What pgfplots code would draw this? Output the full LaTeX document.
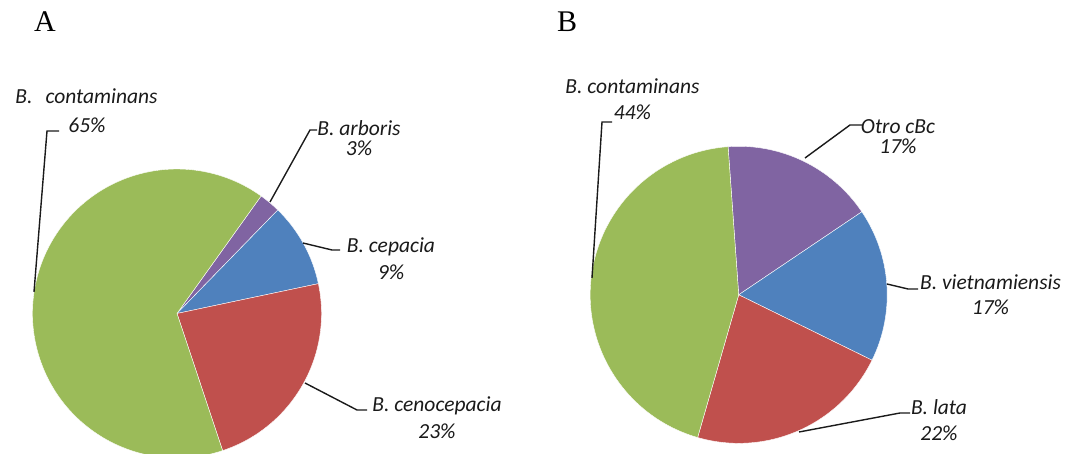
\documentclass[border=0pt]{standalone}
\usepackage{fontspec}
\setmainfont{Liberation Serif}
\newfontfamily\labfont{Carlito}
\usepackage{pgfplots}
\usepackage{pgfplotstable}
\pgfplotsset{compat=1.18}

\definecolor{cgreen}{HTML}{9BBB59}
\definecolor{cpurple}{HTML}{8064A2}
\definecolor{cblue}{HTML}{4F81BD}
\definecolor{cred}{HTML}{C0504D}
\definecolor{ctext}{HTML}{1A1A1A}

% Pie A: slices clockwise from start angle 54.4 deg
\pgfplotstableread{
name value color
arboris 2.4 cpurple
cepacia 9.4 cblue
cenocepacia 23.2 cred
contaminans 65.0 cgreen
}\pieA

% Pie B: slices clockwise from start angle 94.1 deg
\pgfplotstableread{
name value color
otro 16.7 cpurple
vietnamiensis 16.7 cblue
lata 22.2 cred
contaminans 44.4 cgreen
}\pieB

\newcommand\drawpie[5]{%
  \pgfplotstablegetrowsof{#1}%
  \pgfmathtruncatemacro\pieN{\pgfplotsretval-1}%
  \xdef\piecur{#5}%
  \foreach \i in {0,...,\pieN}{%
    \pgfplotstablegetelem{\i}{value}\of#1%
    \pgfmathsetmacro\pieval{\pgfplotsretval}%
    \pgfplotstablegetelem{\i}{color}\of#1%
    \edef\piecol{\pgfplotsretval}%
    \pgfmathsetmacro\pienext{\piecur-3.6*\pieval}%
    \path[fill=\piecol, draw=white, line width=0.4pt] (axis cs:#2,#3) -- ++(\piecur:#4pt) arc[start angle=\piecur, end angle=\pienext, radius=#4pt] -- cycle;%
    \xdef\piecur{\pienext}%
  }%
}

\newcommand\lbl{\labfont\itshape\fontsize{21.5}{25}\selectfont\color{ctext}}

\begin{document}
\begin{tikzpicture}
\useasboundingbox (0,0) rectangle (1065pt,454pt);
\begin{scope}
\clip (0,0) rectangle (1065pt,454pt);
\begin{axis}[at={(0pt,0pt)}, anchor=south west, scale only axis,
  width=1065pt, height=454pt, xmin=0, xmax=1065, ymin=0, ymax=454,
  hide axis, clip=false]
\pgfplotsextra{%
  \drawpie{\pieA}{177}{140.5}{144.5}{54.4}%
  \drawpie{\pieB}{738.7}{159.2}{148.5}{94.1}%
  \draw[ctext, line width=1.4pt] (axis cs:59,323) -- (axis cs:47,323) -- (axis cs:34,162);
  \draw[ctext, line width=1.4pt] (axis cs:317,324) -- (axis cs:310,324) -- (axis cs:270,252);
  \draw[ctext, line width=1.4pt] (axis cs:340,204) -- (axis cs:332,204) -- (axis cs:303,211);
  \draw[ctext, line width=1.4pt] (axis cs:367,44) -- (axis cs:357,44) -- (axis cs:305,71);
  \draw[ctext, line width=1.4pt] (axis cs:612,332) -- (axis cs:602,332) -- (axis cs:592,176);
  \draw[ctext, line width=1.4pt] (axis cs:862,329) -- (axis cs:850,329) -- (axis cs:805,296);
  \draw[ctext, line width=1.4pt] (axis cs:918,165) -- (axis cs:908,165) -- (axis cs:887,170);
  \draw[ctext, line width=1.4pt] (axis cs:910,41) -- (axis cs:900,41) -- (axis cs:799,22);
}
\node[anchor=base west, inner sep=0pt, font=\fontsize{30}{36}\selectfont] at (axis cs:34,422) {A};
\node[anchor=base west, inner sep=0pt, font=\fontsize{30}{36}\selectfont] at (axis cs:557,422) {B};
\node[anchor=base, inner sep=0pt, font=\lbl] at (axis cs:86.5,350) {B.\hspace{13pt}contaminans};
\node[anchor=base, inner sep=0pt, font=\lbl] at (axis cs:87,321.3) {65\%};
\node[anchor=base, inner sep=0pt, font=\lbl] at (axis cs:359,318) {B. arboris};
\node[anchor=base, inner sep=0pt, font=\lbl] at (axis cs:359,298) {3\%};
\node[anchor=base, inner sep=0pt, font=\lbl] at (axis cs:391,201.3) {B. cepacia};
\node[anchor=base, inner sep=0pt, font=\lbl] at (axis cs:391,174.7) {9\%};
\node[anchor=base, inner sep=0pt, font=\lbl] at (axis cs:437,42.3) {B. cenocepacia};
\node[anchor=base, inner sep=0pt, font=\lbl] at (axis cs:437,15.7) {23\%};
\node[anchor=base, inner sep=0pt, font=\lbl] at (axis cs:632.5,360.7) {B. contaminans};
\node[anchor=base, inner sep=0pt, font=\lbl] at (axis cs:632.5,334) {44\%};
\node[anchor=base, inner sep=0pt, font=\lbl] at (axis cs:898,320) {Otro cBc};
\node[anchor=base, inner sep=0pt, font=\lbl] at (axis cs:898,300.7) {17\%};
\node[anchor=base, inner sep=0pt, font=\lbl] at (axis cs:990.5,164) {B. vietnamiensis};
\node[anchor=base, inner sep=0pt, font=\lbl] at (axis cs:990.5,139) {17\%};
\node[anchor=base, inner sep=0pt, font=\lbl] at (axis cs:939,39) {B. lata};
\node[anchor=base, inner sep=0pt, font=\lbl] at (axis cs:939,13) {22\%};
\end{axis}
\end{scope}
\end{tikzpicture}
\end{document}
